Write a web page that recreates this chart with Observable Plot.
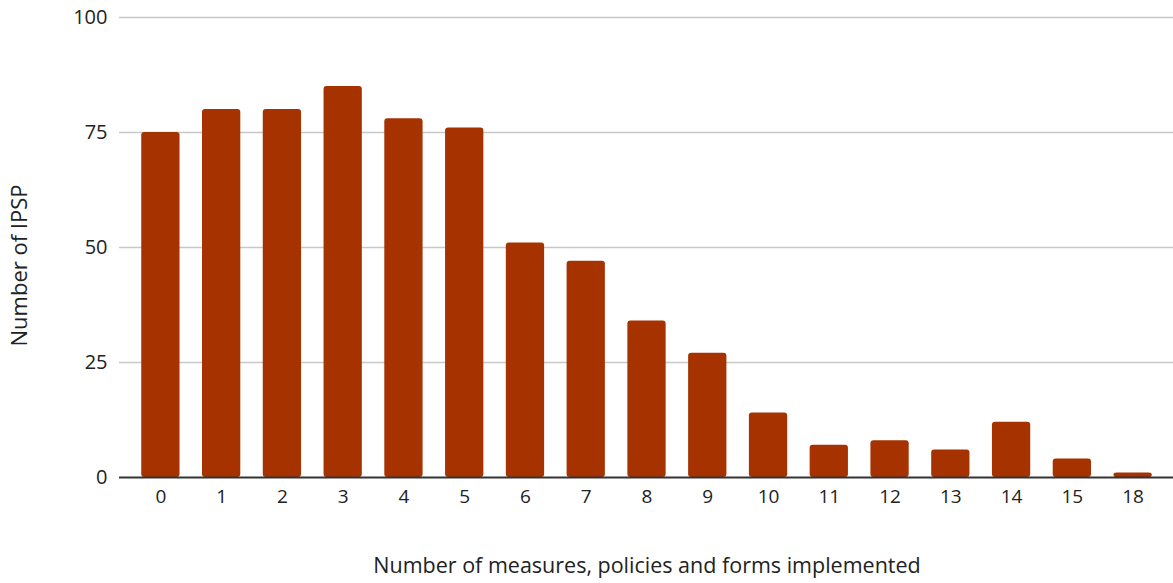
<!DOCTYPE html>
<html>
<head>
<meta charset="utf-8">
<script src="https://cdn.jsdelivr.net/npm/d3@7"></script>
<script src="https://cdn.jsdelivr.net/npm/@observablehq/plot@0.6"></script>
<style>
  html, body { margin: 0; padding: 0; background: #fff; }
  svg { font-family: "Open Sans", sans-serif; }
</style>
</head>
<body>
<div id="chart"></div>
<script>
const categories = ["0","1","2","3","4","5","6","7","8","9","10","11","12","13","14","15","18"];
const counts = [75, 80, 80, 85, 78, 76, 51, 47, 34, 27, 14, 7, 8, 6, 12, 4, 1];
const yTicks = [0, 25, 50, 75, 100];
const xTitle = "Number of measures, policies and forms implemented";
const yTitle = "Number of IPSP";
const data = categories.map((c, i) => ({cat: c, n: counts[i]}));

const chart = Plot.plot({
  width: 1173,
  height: 583,
  marginLeft: 130,
  marginRight: 10,
  marginTop: 17,
  marginBottom: 106,
  style: {fontFamily: "Open Sans, sans-serif", fontSize: "19px", color: "#222", background: "#fff"},
  x: {domain: categories, paddingInner: 0.37, paddingOuter: 0.185, round: false},
  y: {domain: [0, 100]},
  marks: [
    Plot.ruleY(yTicks.filter(d => d > 0), {stroke: "#c8c8c8", strokeWidth: 1.5, insetLeft: -11, insetRight: -10}),
    Plot.barY(data, {x: "cat", y: "n", fill: "#a63200", rx: 3}),
    Plot.ruleY([0], {stroke: "#333", strokeWidth: 2, insetLeft: -11, insetRight: -10}),
    Plot.axisX({tickSize: 0, tickPadding: 12, fontSize: 19, label: null}),
    Plot.axisY({ticks: yTicks, tickSize: 0, tickPadding: 23, fontSize: 20, label: null}),
    Plot.text([xTitle], {text: d => d, frameAnchor: "bottom", dy: 95, fontSize: 21.5, fill: "#222"}),
    Plot.text([yTitle], {text: d => d, frameAnchor: "left", textAnchor: "middle", rotate: -90, dx: -111, dy: 18, fontSize: 22, fill: "#222"})
  ]
});
document.getElementById("chart").appendChild(chart);
</script>
</body>
</html>
